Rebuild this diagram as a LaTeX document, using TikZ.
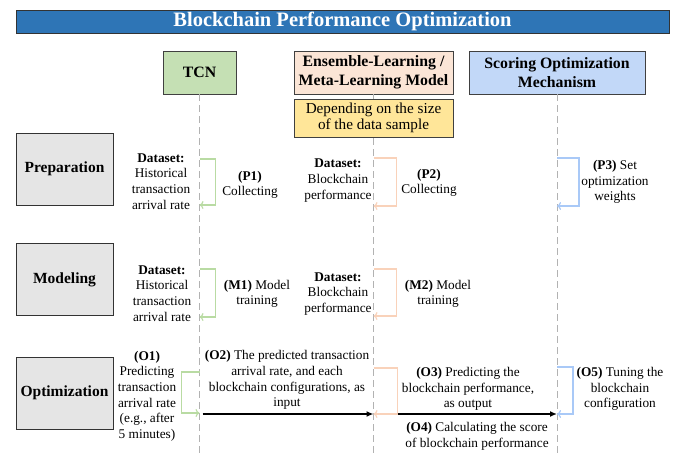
\documentclass[tikz,border=0pt]{standalone}
\usepackage{fontspec}
\setmainfont{Liberation Serif}
\usetikzlibrary{arrows.meta}
\definecolor{titleblue}{HTML}{2E75B6}
\definecolor{tcnfill}{HTML}{C5E0B4}
\definecolor{tcnline}{HTML}{B9DBA3}
\definecolor{ensfill}{HTML}{FBE5D6}
\definecolor{ensline}{HTML}{F9D2BA}
\definecolor{scorefill}{HTML}{C2D8F8}
\definecolor{scoreline}{HTML}{A9C9F7}
\definecolor{notefill}{HTML}{FFE699}
\begin{document}
\begin{tikzpicture}[x=1pt,y=-1pt,
  titlebar/.style={draw=black!80,fill=titleblue,text=white,minimum width=653pt,minimum height=23pt,inner sep=0pt,font=\bfseries\fontsize{20.5}{24}\selectfont},
  hdr/.style={draw=black!75,line width=0.8pt,minimum height=43pt,inner sep=0pt,align=center,font=\bfseries\fontsize{15.8}{19}\selectfont},
  rowbox/.style={draw=black!80,fill=black!10,line width=0.9pt,minimum width=97pt,minimum height=72pt,inner sep=0pt,font=\bfseries\fontsize{15.5}{18}\selectfont},
  txt/.style={align=center,inner sep=0pt,font=\fontsize{13.3}{15.6}\selectfont},
  life/.style={draw=black!30,line width=0.8pt,dash pattern=on 7pt off 4pt},
  bracket/.style={line width=1.2pt,-{To[length=4pt,width=8pt]}},
  flow/.style={line width=1.6pt,-{Latex[length=7pt,width=6pt]}}]
  \useasboundingbox (0,0) rectangle (676,453);

  % title and the three columns
  \node[titlebar] (title) at (342.5,21.5) {Blockchain Performance Optimization};
  \node[hdr,fill=tcnfill,minimum width=73pt] (tcn) at (199.5,72.5) {TCN};
  \node[hdr,fill=ensfill,minimum width=159pt] (ens) at (373.5,72.5) {Ensemble-Learning /\\Meta-Learning Model};
  \node[hdr,fill=scorefill,minimum width=176pt] (score) at (557,72.5) {Scoring Optimization\\Mechanism};

  % lifelines
  \coordinate (tcnend) at (199.5,453);
  \coordinate (ensend) at (373.5,453);
  \coordinate (scoreend) at (557,453);
  \draw[life] (tcn) -- (tcnend);
  \draw[life] (ens) -- (ensend);
  \draw[life] (score) -- (scoreend);

  \node[draw=black!75,line width=0.8pt,fill=notefill,minimum width=159pt,minimum height=38pt,inner sep=0pt,align=center,font=\fontsize{15.2}{16.5}\selectfont] (note) at (373.5,118) {Depending on the size\\of the data sample};

  % stages
  \node[rowbox] (prep) at (64.5,169) {Preparation};
  \node[rowbox] (model) at (64.5,279.5) {Modeling};
  \node[rowbox] (optim) at (64.5,393) {Optimization};

  % preparation
  \node[txt] (prepdata) at (161,181.5) {\textbf{Dataset:}\\Historical\\transaction\\arrival rate};
  \coordinate (p1s) at (199.5,159);
  \coordinate (p1e) at (199.5,205);
  \draw[bracket,tcnline] (p1s) -- ++(16,0) |- (p1e);
  \node[txt] (p1) at (250,185) {\textbf{(P1)}\\Collecting};
  \node[txt] (prepperf) at (338,180.5) {\textbf{Dataset:}\\Blockchain\\performance};
  \coordinate (p2s) at (373.5,158);
  \coordinate (p2e) at (373.5,206);
  \draw[bracket,ensline] (p2s) -- ++(23,0) |- (p2e);
  \node[txt] (p2) at (429,183) {\textbf{(P2)}\\Collecting};
  \coordinate (p3s) at (557,158);
  \coordinate (p3e) at (557,206);
  \draw[bracket,scoreline] (p3s) -- ++(22,0) |- (p3e);
  \node[txt] (p3) at (615,182) {\textbf{(P3)} Set\\optimization\\weights};

  % modeling
  \node[txt] (modeldata) at (162,293.5) {\textbf{Dataset:}\\Historical\\transaction\\arrival rate};
  \coordinate (m1s) at (199.5,269);
  \coordinate (m1e) at (199.5,317);
  \draw[bracket,tcnline] (m1s) -- ++(16,0) |- (m1e);
  \node[txt] (m1) at (257,294) {\textbf{(M1)} Model\\training};
  \node[txt] (modelperf) at (338,294) {\textbf{Dataset:}\\Blockchain\\performance};
  \coordinate (m2s) at (373.5,269);
  \coordinate (m2e) at (373.5,316);
  \draw[bracket,ensline] (m2s) -- ++(23,0) |- (m2e);
  \node[txt] (m2) at (438,294) {\textbf{(M2)} Model\\training};

  % optimization
  \node[txt] (o1) at (147,396) {\textbf{(O1)}\\Predicting\\transaction\\arrival rate\\(e.g., after\\5 minutes)};
  \coordinate (o1s) at (199.5,372);
  \coordinate (o1e) at (199.5,413);
  \draw[bracket,tcnline] (o1s) -- ++(-18,0) |- (o1e);
  \coordinate (o2s) at (202.5,414);
  \coordinate (o2e) at (373.5,414);
  \draw[flow] (o2s) -- (o2e);
  \node[txt] (o2) at (287,380) {\textbf{(O2)} The predicted transaction\\arrival rate, and each\\blockchain configurations, as\\input};
  \coordinate (o3s) at (373.5,368);
  \coordinate (o3e) at (373.5,414);
  \draw[bracket,ensline] (o3s) -- ++(24,0) |- (o3e);
  \coordinate (o4s) at (397.5,414);
  \coordinate (o4e) at (557,414);
  \draw[flow] (o4s) -- (o4e);
  \node[txt] (o3) at (468,389) {\textbf{(O3)} Predicting the\\blockchain performance,\\as output};
  \node[txt] (o4) at (477,436.5) {\textbf{(O4)} Calculating the score\\of blockchain performance};
  \coordinate (o5s) at (557,367);
  \coordinate (o5e) at (557,414);
  \draw[bracket,scoreline] (o5s) -- ++(16,0) |- (o5e);
  \node[txt] (o5) at (620,389) {\textbf{(O5)} Tuning the\\blockchain\\configuration};
\end{tikzpicture}
\end{document}
